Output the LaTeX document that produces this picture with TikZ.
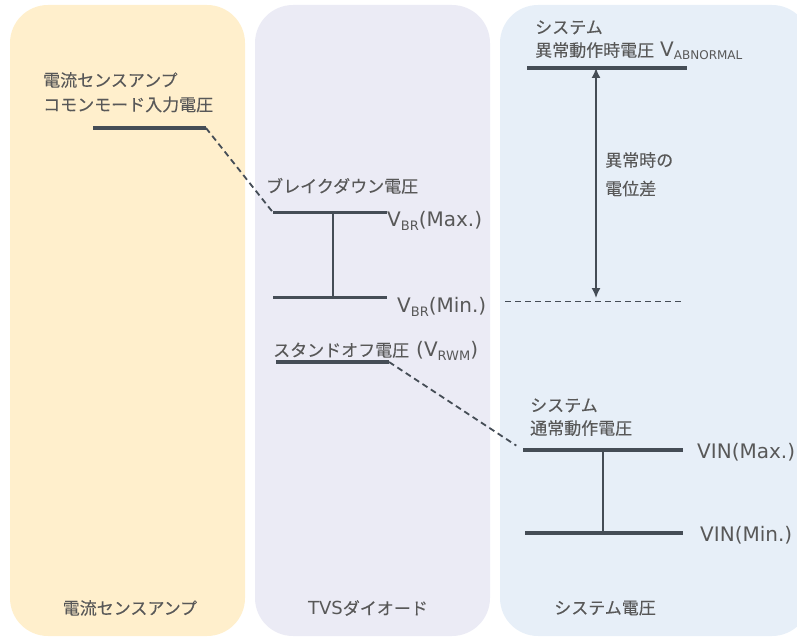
\documentclass[tikz,border=0pt]{standalone}
\usepackage{fontspec}
\setmainfont{DejaVu Sans}
\newfontfamily\jpfont[FakeBold=0.15]{Noto Sans CJK JP}
\usetikzlibrary{arrows.meta,positioning}
\definecolor{ampbg}{HTML}{FFEFCC}
\definecolor{tvsbg}{HTML}{EBEBF5}
\definecolor{sysbg}{HTML}{E7EFF8}
\definecolor{lvlgray}{HTML}{454D56}
\definecolor{txtgray}{HTML}{585858}
\newcommand{\jpsz}{\jpfont\fontsize{17}{24}\selectfont}
\newcommand{\ltsz}{\fontspec{DejaVu Sans}\fontsize{20}{24}\selectfont}
\newcommand{\vsub}[1]{\raisebox{-4pt}{\fontsize{13}{13}\selectfont #1}}
\tikzset{
  lbl/.style={text=txtgray,inner sep=0pt,anchor=base west,font=\jpsz},
  vlbl/.style={text=txtgray,inner sep=0pt,anchor=base west,font=\ltsz},
  lvl/.style={draw=lvlgray,line width=3.2pt},
  span/.style={draw=lvlgray,line width=1.6pt},
  dashlink/.style={draw=lvlgray,line width=1.8pt,dash pattern=on 6pt off 4pt}
}

\begin{document}
\begin{tikzpicture}[x=1pt,y=-1pt,>=Latex]
  \useasboundingbox (0,0) rectangle (797,639);
  \fill[ampbg,rounded corners=38pt] (10,5) rectangle (245,636);
  \fill[tvsbg,rounded corners=38pt] (255,5) rectangle (490,636);
  \fill[sysbg,rounded corners=38pt] (500,5) rectangle (810,636);

  \coordinate (amp-l) at (93,128);    \coordinate (amp-r) at (206,128);
  \coordinate (brmax-l) at (273,212.5); \coordinate (brmax-r) at (387,212.5);
  \coordinate (brmax-m) at (333,212.5);
  \coordinate (brmin-l) at (273,297.5); \coordinate (brmin-r) at (387,297.5);
  \coordinate (brmin-m) at (333,297.5);
  \coordinate (rwm-l) at (276,362);   \coordinate (rwm-r) at (389,362);
  \coordinate (abn-l) at (527,68);    \coordinate (abn-r) at (687,68);
  \coordinate (abn-m) at (596,68);
  \coordinate (vmax-l) at (523,450);  \coordinate (vmax-r) at (683,450);
  \coordinate (vmax-m) at (603,450);
  \coordinate (vmin-l) at (525,533);  \coordinate (vmin-r) at (683,533);
  \coordinate (vmin-m) at (603,533);
  \coordinate (gap-l) at (505,301.5); \coordinate (gap-r) at (682,301.5);
  \coordinate (gap-m) at (596,298);

  \node[lbl] (amptxt1) at (43,86.5) {電流センスアンプ};
  \node[lbl] (amptxt2) at (43,111) {コモンモード入力電圧};
  \node[lbl] (brtxt) at (266,192.5) {ブレイクダウン電圧};
  \node[vlbl] (brmaxtxt) at (387,226) {V\vsub{BR}(Max.)};
  \node[vlbl] (brmintxt) at (397,312) {V\vsub{BR}(Min.)};
  \node[lbl] (rwmtxt) at (273,356.5) {スタンドオフ電圧\hspace{7pt}{\ltsz(V\vsub{RWM})}};
  \node[lbl] (abntxt1) at (535,33.5) {システム};
  \node[lbl] (abntxt2) at (535,56.5) {異常動作時電圧\hspace{6pt}{\ltsz V\raisebox{-3pt}{\fontsize{12}{12}\selectfont ABNORMAL}}};
  \node[lbl] (diftxt1) at (605,166.5) {異常時の};
  \node[lbl] (diftxt2) at (605,195) {電位差};
  \node[lbl] (nrmtxt1) at (530,411.5) {システム};
  \node[lbl] (nrmtxt2) at (530,434.5) {通常動作電圧};
  \node[vlbl] (vmaxtxt) at (697,458) {VIN(Max.)};
  \node[vlbl] (vmintxt) at (700,541) {VIN(Min.)};

  \node[text=txtgray,font=\jpsz] (ampname) at (130,608) {電流センスアンプ};
  \node[text=txtgray,font=\jpsz] (tvsname) at (368,608) {{\ltsz\fontsize{18}{20}\selectfont TVS}ダイオード};
  \node[text=txtgray,font=\jpsz] (sysname) at (605,608) {システム電圧};

  \draw[lvl] (amp-l) -- (amp-r);
  \draw[lvl] (brmax-l) -- (brmax-r);
  \draw[lvl] (brmin-l) -- (brmin-r);
  \draw[lvl] (rwm-l) -- (rwm-r);
  \draw[lvl] (abn-l) -- (abn-r);
  \draw[lvl] (vmax-l) -- (vmax-r);
  \draw[lvl] (vmin-l) -- (vmin-r);

  \draw[span] (brmax-m) -- (brmin-m);
  \draw[span] (vmax-m) -- (vmin-m);
  \draw[span,{Latex[length=10pt,width=9pt]}-{Latex[length=10pt,width=9pt]}] (abn-m) -- (gap-m);

  \draw[dashlink] (amp-r) -- (brmax-l);
  \draw[dashlink,shorten >=8pt] (rwm-r) -- (vmax-l);
  \draw[dashlink] (gap-l) -- (gap-r);
\end{tikzpicture}
\end{document}
